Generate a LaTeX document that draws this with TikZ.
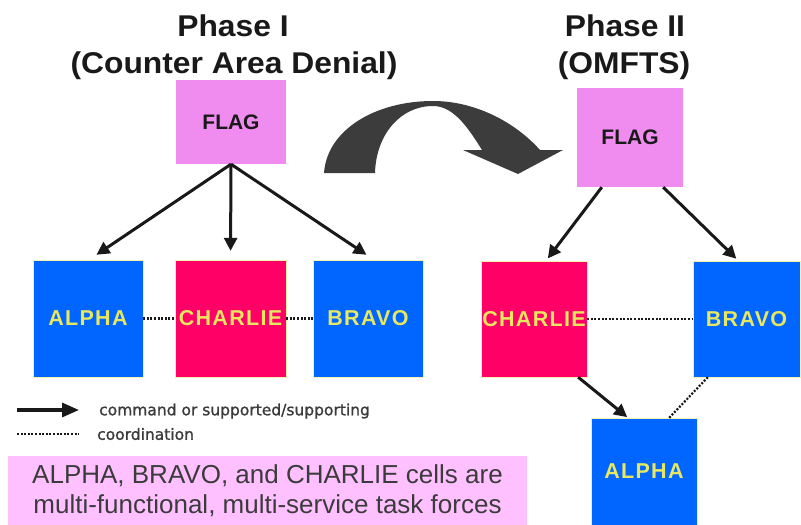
\documentclass[tikz,border=0pt]{standalone}
\usepackage{fontspec}
\setmainfont{Liberation Sans}
\newfontfamily\titlefont[FakeStretch=1.06]{Liberation Sans}
\newfontfamily\cellfont[LetterSpace=6]{Liberation Sans}
\newfontfamily\legfont[FakeBold=1.2]{DejaVu Sans}
\usetikzlibrary{arrows.meta}
\definecolor{flagpink}{RGB}{240,140,240}
\definecolor{notepink}{RGB}{255,192,255}
\definecolor{cellblue}{RGB}{0,102,255}
\definecolor{cellred}{RGB}{255,0,102}
\definecolor{celltext}{RGB}{232,232,96}
\definecolor{arcgray}{RGB}{60,60,60}
\definecolor{ink}{RGB}{25,25,25}
\begin{document}
\begin{tikzpicture}[x=1pt,y=-1pt,
  titletext/.style={font=\titlefont\bfseries\fontsize{30}{30}\selectfont, text=ink, inner sep=0},
  flagbox/.style={fill=flagpink, inner sep=0, font=\bfseries\fontsize{21}{21}\selectfont, text=ink},
  cell/.style={inner sep=0, font=\cellfont\bfseries\fontsize{21.5}{21.5}\selectfont, text=celltext, draw=celltext!50!white, line width=0.4pt},
  bluecell/.style={cell, fill=cellblue},
  redcell/.style={cell, fill=cellred},
  cmd/.style={-{Triangle[length=13pt,width=13pt]}, line width=3pt, draw=ink},
  coord/.style={line width=2.2pt, dash pattern=on 2pt off 1.6pt, draw=ink},
  legtext/.style={font=\legfont\fontsize{15.5}{15.5}\selectfont, text=ink!85, inner sep=0}
]
\useasboundingbox (0,0) rectangle (801,525);

% titles
\node[titletext, anchor=base] (t1a) at (233,36) {Phase I};
\node[titletext, anchor=base] (t1b) at (234,73) {(Counter Area Denial)};
\node[titletext, anchor=base] (t2a) at (625,36) {Phase II};
\node[titletext, anchor=base] (t2b) at (624,73) {(OMFTS)};

% phase I
\node[flagbox, minimum width=110pt, minimum height=84pt] (flagL) at (231,122) {FLAG};
\node[bluecell, minimum width=110pt, minimum height=117pt] (alphaL) at (88,318.5) {ALPHA};
\node[redcell, minimum width=111pt, minimum height=117pt] (charL) at (230.5,318.5) {CHARLIE};
\node[bluecell, minimum width=110pt, minimum height=117pt] (bravoL) at (368,318.5) {BRAVO};

\draw[cmd, shorten >=9pt] (flagL.south) -- ([xshift=1pt]alphaL.north);
\draw[cmd, shorten >=9pt] (flagL.south) -- (charL.north);
\draw[cmd, shorten >=9pt] (flagL.south) -- ([xshift=6pt]bravoL.north);
\draw[coord] (alphaL.east) -- (charL.west);
\draw[coord] (charL.east) -- (bravoL.west);

% phase II
\node[flagbox, minimum width=106pt, minimum height=99pt] (flagR) at (630,137.5) {FLAG};
\node[redcell, minimum width=106pt, minimum height=116pt] (charR) at (534,319) {CHARLIE};
\node[bluecell, minimum width=107pt, minimum height=116pt] (bravoR) at (746.5,319) {BRAVO};
\node[bluecell, minimum width=106pt, minimum height=107pt] (alphaR) at (644,471.5) {ALPHA};

\draw[cmd, shorten >=3pt] ([xshift=25pt]flagR.south west) -- ([xshift=12pt]charR.north);
\draw[cmd, shorten >=3pt] ([xshift=-20pt]flagR.south east) -- ([xshift=-8pt]bravoR.north);
\draw[cmd, shorten >=1pt] ([xshift=-9pt]charR.south east) -- ([xshift=-16pt]alphaR.north);
\draw[coord] (charR.east) -- (bravoR.west);
\draw[coord] ([xshift=15pt]bravoR.south west) -- ([xshift=-28pt]alphaR.north east);

% big curved transition arrow
\fill[arcgray] (324,173) .. controls (327,130) and (375,101) .. (433,101)
  .. controls (475,101) and (515,122) .. (540,150)
  -- (563,150) -- (518,174) -- (463,150) -- (482,150)
  .. controls (466,124) and (452,106) .. (433,106)
  .. controls (400,106) and (376,135) .. (375,173) -- cycle;

% legend
\coordinate (lgA1) at (17,410);
\coordinate (lgA2) at (79,410);
\coordinate (lgD1) at (17,434);
\coordinate (lgD2) at (79,434);
\draw[line width=3.2pt, draw=ink, -{Triangle[length=17pt,width=14pt]}] (lgA1) -- (lgA2);
\draw[coord, line width=1.8pt] (lgD1) -- (lgD2);
\node[legtext, anchor=west] (lgT1) at (99,411) {command or supported/supporting};
\node[legtext, anchor=west] (lgT2) at (97,434) {coordination};

% note box
\node[fill=notepink, minimum width=519pt, minimum height=69pt, inner sep=0, align=center,
  font=\fontsize{26}{30}\selectfont, text=ink!85] (note) at (267.5,490.5)
  {ALPHA, BRAVO, and CHARLIE cells are\\multi-functional, multi-service task forces};
\end{tikzpicture}
\end{document}
